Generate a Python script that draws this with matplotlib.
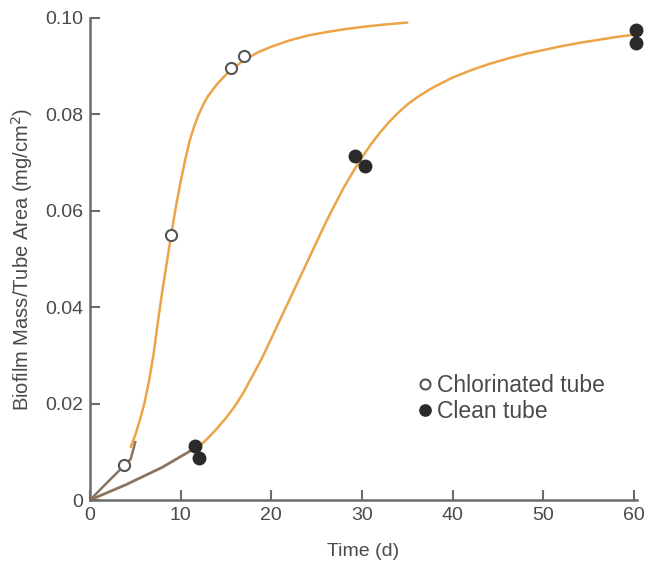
import matplotlib
matplotlib.use('Agg')
import matplotlib.pyplot as plt

plt.rcParams['font.family'] = ['Liberation Sans', 'DejaVu Sans']

# measured points
chl_x = [3.8, 8.9, 15.6, 17.0]
chl_y = [0.0072, 0.0550, 0.0895, 0.0920]
clean_x = [11.6, 12.0, 29.2, 30.3, 60.2, 60.2]
clean_y = [0.0112, 0.0088, 0.0713, 0.0692, 0.0975, 0.0948]

# fitted curves
chl_curve_x = [4.5, 5.0, 5.5, 6.0, 6.5, 7.0, 7.5, 8.0, 8.5, 9.0, 9.5, 10.0, 10.5, 11.0, 11.5,
               12.0, 12.5, 13.0, 14.0, 15.0, 16.0, 17.0, 18.5, 20.0, 22.0, 24.0, 26.0, 28.0,
               30.0, 32.5, 35.0]
chl_curve_y = [0.0110, 0.0135, 0.0165, 0.0200, 0.0245, 0.0300, 0.0370, 0.0435, 0.0495, 0.0555,
               0.0610, 0.0660, 0.0705, 0.0745, 0.0775, 0.0800, 0.0820, 0.0837, 0.0862, 0.0882,
               0.0898, 0.0912, 0.0928, 0.0940, 0.0953, 0.0963, 0.0970, 0.0976, 0.0981, 0.0986,
               0.0990]
clean_curve_x = [12, 13, 14, 15, 16, 17, 18, 19, 20, 21, 22, 23, 24, 25, 26, 27, 28, 29, 30,
                 31, 32, 33, 34, 35, 36, 37, 38, 40, 42, 44, 46, 48, 50, 52, 54, 56, 58, 60.5]
clean_curve_y = [0.0110, 0.0128, 0.0148, 0.0170, 0.0195, 0.0225, 0.0260, 0.0295, 0.0335,
                 0.0375, 0.0415, 0.0455, 0.0495, 0.0535, 0.0575, 0.0612, 0.0648, 0.0680,
                 0.0710, 0.0738, 0.0762, 0.0784, 0.0803, 0.0820, 0.0834, 0.0846, 0.0857,
                 0.0876, 0.0891, 0.0904, 0.0915, 0.0925, 0.0933, 0.0941, 0.0948, 0.0954,
                 0.0960, 0.0966]
# straight starts from the origin
chl_start_x = [0, 2.0, 4.5, 5.0]
chl_start_y = [0, 0.0038, 0.0085, 0.0120]
clean_start_x = [0, 4.0, 8.0, 12.0]
clean_start_y = [0, 0.0032, 0.0068, 0.0112]

orange = '#eca448'
brown = '#8a7560'
txt = '#4a4a4a'

fig = plt.figure(figsize=(6.47, 5.66), dpi=100)
ax = fig.add_axes([0.139, 0.1166, 0.845, 0.852])

ax.plot(chl_curve_x, chl_curve_y, color=orange, lw=1.8, solid_capstyle='round')
ax.plot(clean_curve_x, clean_curve_y, color=orange, lw=1.8, clip_on=False)
ax.plot(chl_start_x, chl_start_y, color=brown, lw=1.8)
ax.plot(clean_start_x, clean_start_y, color=brown, lw=2.0)

ax.plot(chl_x, chl_y, 'o', ms=8, mfc='white', mec='#555555', mew=1.5, ls='none', label='Chlorinated tube')
ax.plot(clean_x, clean_y, 'o', ms=9, mfc='#2a2a2a', mec='#2a2a2a', ls='none', label='Clean tube', clip_on=False)

ax.set_xlim(0, 60.3)
ax.set_ylim(0, 0.1)
ax.set_xticks([0, 10, 20, 30, 40, 50, 60])
ax.set_yticks([0, 0.02, 0.04, 0.06, 0.08, 0.10])
ax.set_yticklabels(['0', '0.02', '0.04', '0.06', '0.08', '0.10'])
ax.tick_params(direction='in', length=7, width=1.5, colors='#6b6b6b', labelcolor=txt, labelsize=14, pad=5)

for s in ['top', 'right']:
    ax.spines[s].set_visible(False)
for s in ['left', 'bottom']:
    ax.spines[s].set_color('#6b6b6b')
    ax.spines[s].set_linewidth(1.8)

ax.set_xlabel('Time (d)', fontsize=14, color=txt, labelpad=14)
ax.set_ylabel('Biofilm Mass/Tube Area (mg/cm$^2$)', fontsize=14.5, color=txt)
ax.yaxis.set_label_coords(-0.1, 0.5)

leg = ax.legend(loc='upper left', bbox_to_anchor=(0.576, 0.28), frameon=False, fontsize=16.5,
                handletextpad=0.0, borderaxespad=0, labelspacing=0.12, labelcolor=txt,
                handlelength=1.0, markerscale=0.9)

fig.savefig('out.png', dpi=100)
